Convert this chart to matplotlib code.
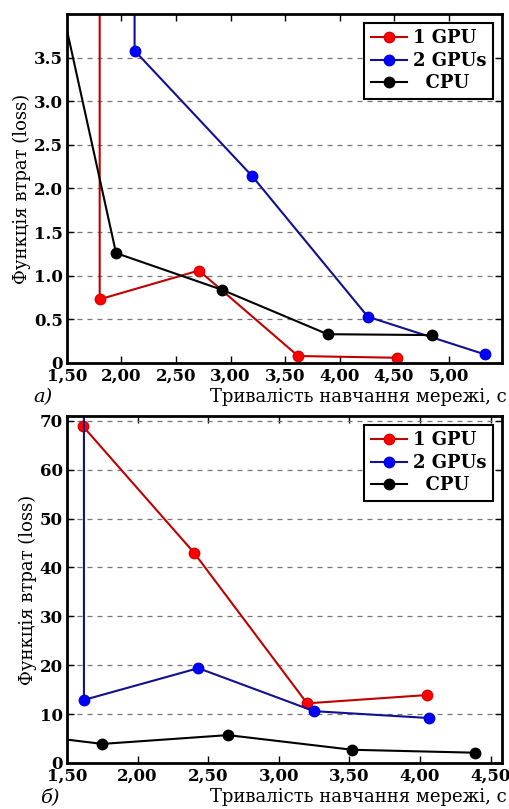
import matplotlib
matplotlib.use("Agg")
import matplotlib.pyplot as plt

# ---- data: panel a ----
a_gpu1_x = [1.80, 1.80, 2.71, 3.62, 4.53]
a_gpu1_y = [6.00, 0.73, 1.06, 0.08, 0.06]
a_gpu2_x = [2.12, 2.12, 3.20, 4.26, 5.33]
a_gpu2_y = [6.00, 3.58, 2.14, 0.53, 0.10]
a_cpu_x = [1.00, 1.95, 2.92, 3.89, 4.85]
a_cpu_y = [6.65, 1.26, 0.84, 0.33, 0.32]
a_xticks = [1.5, 2.0, 2.5, 3.0, 3.5, 4.0, 4.5, 5.0]
a_xlabels = ["1,50", "2,00", "2,50", "3,00", "3,50", "4,00", "4,50", "5,00"]
a_yticks = [0, 0.5, 1.0, 1.5, 2.0, 2.5, 3.0, 3.5]
a_ylabels = ["0", "0.5", "1.0", "1.5", "2.0", "2.5", "3.0", "3.5"]

# ---- data: panel b ----
b_gpu1_x = [1.61, 2.40, 3.20, 4.05]
b_gpu1_y = [69.0, 43.0, 12.2, 13.9]
b_gpu2_x = [1.62, 1.62, 2.43, 3.25, 4.06]
b_gpu2_y = [80.0, 12.9, 19.4, 10.6, 9.2]
b_cpu_x = [0.87, 1.75, 2.64, 3.52, 4.39]
b_cpu_y = [7.0, 3.9, 5.7, 2.7, 2.1]
b_xticks = [1.5, 2.0, 2.5, 3.0, 3.5, 4.0, 4.5]
b_xlabels = ["1,50", "2,00", "2,50", "3,00", "3,50", "4,00", "4,50"]
b_yticks = [0, 10, 20, 30, 40, 50, 60, 70]
b_ylabels = ["0", "10", "20", "30", "40", "50", "60", "70"]

series_names = ["1 GPU", "2 GPUs", "  CPU"]

plt.rcParams['font.family'] = ['DejaVu Serif']

fig = plt.figure(figsize=(5.09, 8.09), dpi=100)
ax1 = fig.add_axes([0.1316, 0.5513, 0.8546, 0.4314])
ax2 = fig.add_axes([0.1316, 0.0569, 0.8546, 0.4289])

styles = [
    dict(color="#c00000", marker="o", markerfacecolor="#ff0000", markeredgecolor="#dd0000"),
    dict(color="#101090", marker="o", markerfacecolor="#0000ff", markeredgecolor="#0000dd"),
    dict(color="black", marker="o", markerfacecolor="black", markeredgecolor="black"),
]

def draw(ax, xs, ys, xticks, xlabels, yticks, ylabels, xlim, ylim, tag, tagx):
    for x, y, st, name in zip(xs, ys, styles, series_names):
        ax.plot(x, y, lw=1.5, markersize=7.5, label=name, **st)
    ax.set_xlim(*xlim)
    ax.set_ylim(*ylim)
    ax.set_xticks(xticks)
    ax.set_xticklabels(xlabels, fontsize=12, fontweight="bold")
    ax.set_yticks(yticks)
    ax.set_yticklabels(ylabels, fontsize=12, fontweight="bold")
    ax.tick_params(direction="in", length=5, width=1, top=True, right=True, pad=3)
    ax.yaxis.grid(True, linestyle=(0, (4, 4)), color="#777777", lw=0.9)
    ax.set_axisbelow(True)
    for s in ax.spines.values():
        s.set_linewidth(2)
    ax.set_ylabel("Функція втрат (loss)", fontsize=13, labelpad=2)
    ax.text(1.01, -0.097, "Тривалість навчання мережі, с", transform=ax.transAxes,
            ha="right", va="center", fontsize=13)
    ax.text(tagx, -0.097, tag, transform=ax.transAxes, ha="center", va="center",
            fontsize=14, style="italic")
    leg = ax.legend(loc="upper right", fancybox=False, numpoints=1, framealpha=1,
                    edgecolor="black", prop=dict(size=13, weight="bold"),
                    handlelength=2.0, handletextpad=0.35, borderpad=0.35,
                    labelspacing=0.25, borderaxespad=0.5)
    leg.get_frame().set_linewidth(1.5)

draw(ax1, [a_gpu1_x, a_gpu2_x, a_cpu_x], [a_gpu1_y, a_gpu2_y, a_cpu_y],
     a_xticks, a_xlabels, a_yticks, a_ylabels, (1.5, 5.49), (0, 4.0), "а)", -0.055)
draw(ax2, [b_gpu1_x, b_gpu2_x, b_cpu_x], [b_gpu1_y, b_gpu2_y, b_cpu_y],
     b_xticks, b_xlabels, b_yticks, b_ylabels, (1.5, 4.58), (0, 71), "б)", -0.04)

fig.savefig("out.png", dpi=100)
